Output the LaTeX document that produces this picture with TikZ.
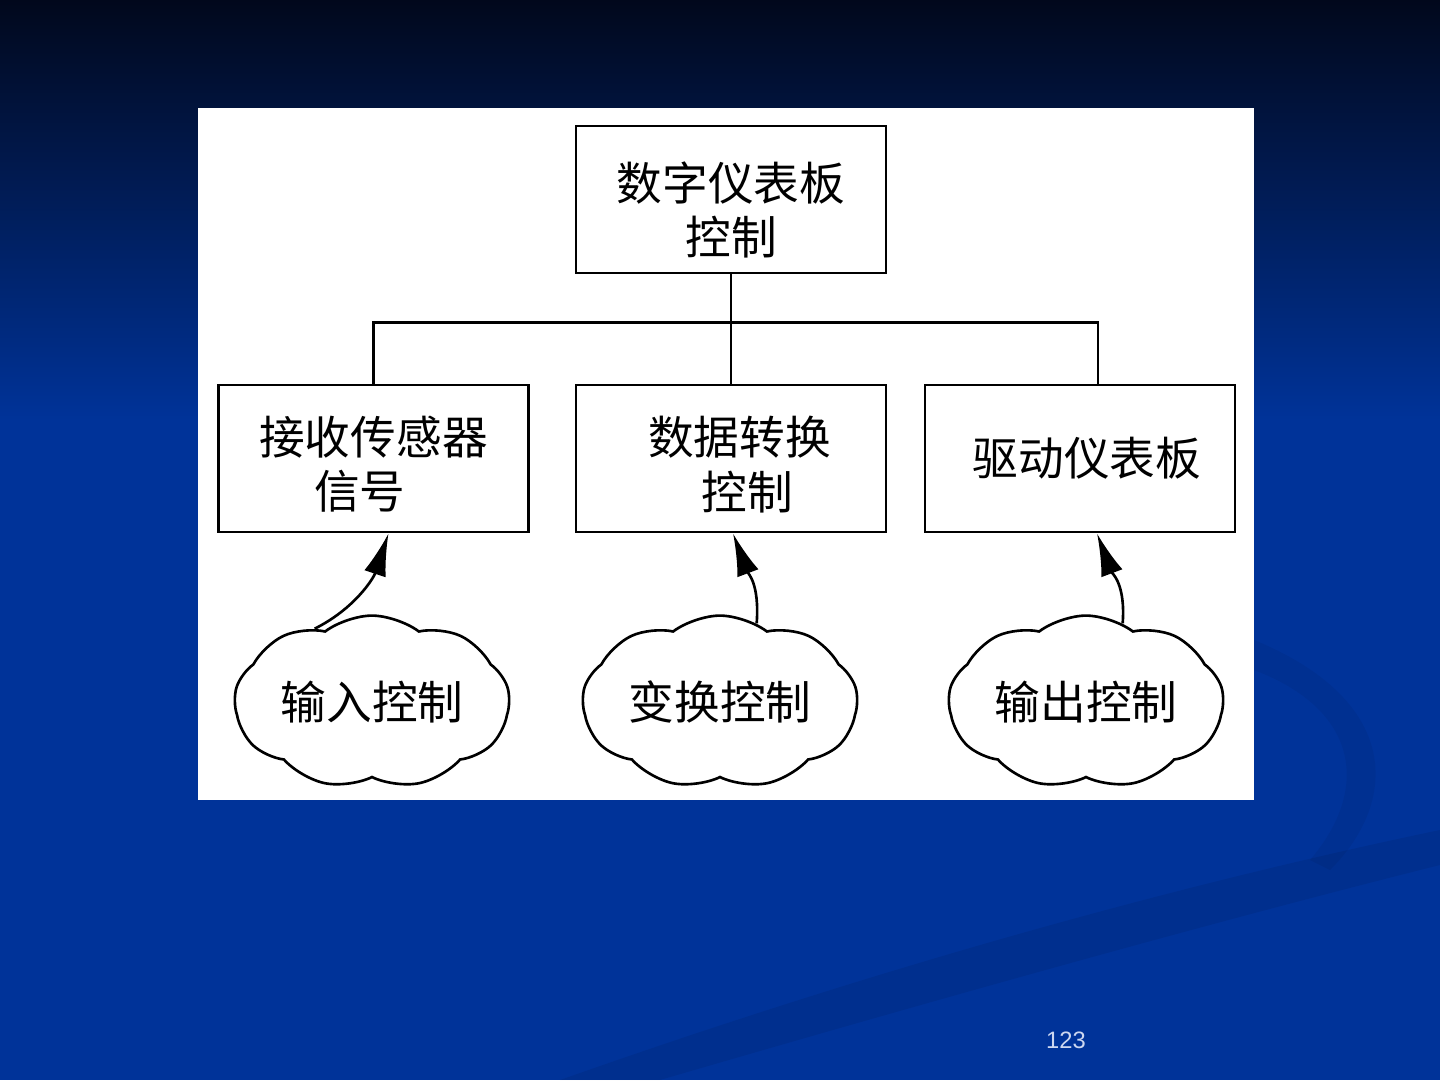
\documentclass[tikz,border=0pt]{standalone}
\usepackage{fontspec}
\newfontfamily\cjk{Noto Sans CJK SC}
\newfontfamily\numfont{Liberation Sans}
\usetikzlibrary{positioning,arrows.meta,shapes.symbols,calc}
\definecolor{night}{RGB}{1,8,28}
\definecolor{slide}{RGB}{0,51,153}
\definecolor{pagenum}{RGB}{205,215,240}

\begin{document}
\begin{tikzpicture}[
  x=0.02cm, y=-0.02cm,
  font=\cjk\fontsize{26}{31}\selectfont,
  box/.style={draw, line width=1.6pt, fill=white, align=center, minimum width=6.2cm, minimum height=2.94cm, inner sep=0pt},
  puff/.style={cloud, draw, line width=1.5pt, cloud puffs=9, cloud puff arc=75, aspect=1.7, minimum width=5.5cm, minimum height=3.2cm, inner sep=0pt},
  link/.style={line width=1.5pt},
  flow/.style={line width=1.5pt, -{Latex[length=0.85cm, width=0.45cm]}}
]
% slide background
\fill[top color=night, bottom color=slide] (0,0) rectangle (1440,420);
\fill[slide] (0,420) rectangle (1440,1080);
\fill[black, opacity=0.07] (560,1080) .. controls (900,960) and (1200,880) .. (1440,830) -- (1440,865) .. controls (1200,925) and (900,1010) .. (660,1080) -- cycle;
\fill[black, opacity=0.05] (1254,640) .. controls (1400,700) and (1400,800) .. (1330,870) -- (1310,860) .. controls (1370,790) and (1360,710) .. (1254,670) -- cycle;
\fill[white] (198,108) rectangle (1254,800);

% boxes
\node[box] (dash) at (731,199.5) {\rule{0pt}{1.3em}数字仪表板\\控制};
\node[box] (recv) at (373.5,458.5) {\rule{0pt}{1.1em}接收传感器\\信号\hspace*{0.6em}};
\node[box] (conv) at (731,458.5) {\rule{0pt}{1.1em}\hspace*{0.37em}数据转换\\\hspace*{0.72em}控制};
\node[box] (drive) at (1080,458.5) {\hspace*{0.3em}驱动仪表板};

% clouds
\node[puff] (incl) at (372,702) {输入控制};
\node[puff] (trcl) at (720,702) {变换控制};
\node[puff] (outcl) at (1086,702) {输出控制};

% tree lines
\coordinate (bus) at ($(dash.south)+(0,48)$);
\coordinate (tap) at ($(drive.north)+(18,0)$);
\draw[link] (dash) -- (conv);
\draw[link] (recv.north) |- (bus) -| (tap);

% control arrows
\draw[flow] (incl.128) .. controls +(40,-20) and +(-15,45) .. ($(recv.south)+(15,0)$);
\draw[flow] (trcl.65) .. controls +(3,-40) and +(15,40) .. ($(conv.south)+(2,0)$);
\draw[flow] (outcl.65) .. controls +(3,-40) and +(15,40) .. ($(drive.south)+(17,0)$);

\node[font=\numfont\fontsize{13.5}{16}\selectfont, text=pagenum] (page) at (1066,1040) {123};
\end{tikzpicture}
\end{document}
